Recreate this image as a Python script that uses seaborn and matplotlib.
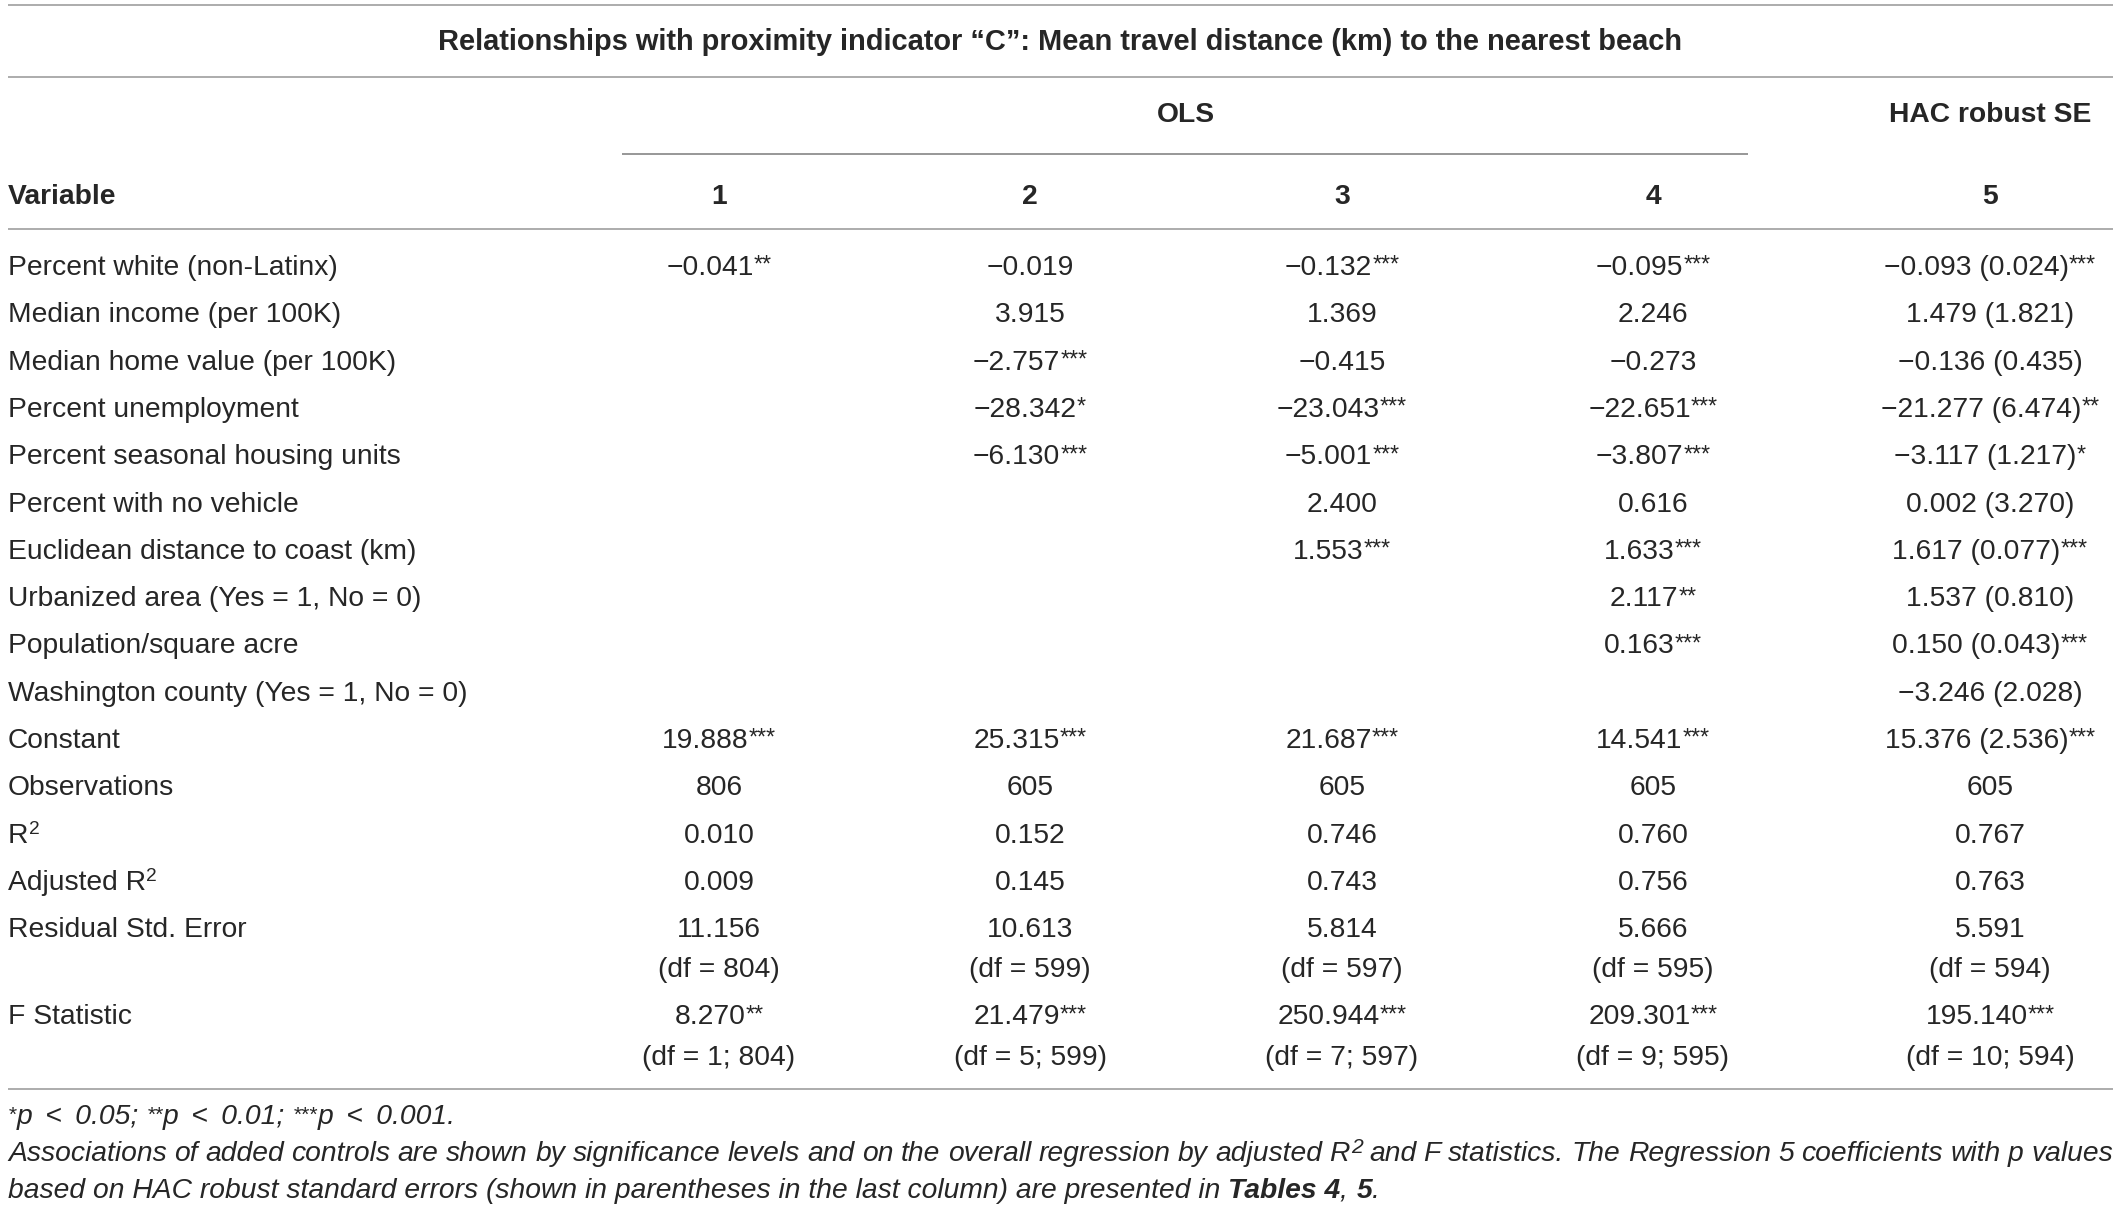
import matplotlib
matplotlib.use("Agg")
import matplotlib.pyplot as plt
import seaborn as sns

sns.set_theme(style="white")
plt.rcParams['font.family'] = ['Liberation Sans', 'DejaVu Sans']

# ---------------- data ----------------
title = "Relationships with proximity indicator \u201cC\u201d: Mean travel distance (km) to the nearest beach"
group_labels = ["OLS", "HAC robust SE"]
col_labels = ["1", "2", "3", "4", "5"]
var_header = "Variable"

row_labels = [
    "Percent white (non-Latinx)",
    "Median income (per 100K)",
    "Median home value (per 100K)",
    "Percent unemployment",
    "Percent seasonal housing units",
    "Percent with no vehicle",
    "Euclidean distance to coast (km)",
    "Urbanized area (Yes = 1, No = 0)",
    "Population/square acre",
    "Washington county (Yes = 1, No = 0)",
    "Constant",
    "Observations",
    "R|2",
    "Adjusted R|2",
    "Residual Std. Error",
    "F Statistic",
]

# cell text, significance stars
model1 = [("\u22120.041", "**"), None, None, None, None, None, None, None, None, None,
          ("19.888", "***"), ("806", ""), ("0.010", ""), ("0.009", ""), ("11.156", ""), ("8.270", "**")]
model2 = [("\u22120.019", ""), ("3.915", ""), ("\u22122.757", "***"), ("\u221228.342", "*"),
          ("\u22126.130", "***"), None, None, None, None, None,
          ("25.315", "***"), ("605", ""), ("0.152", ""), ("0.145", ""), ("10.613", ""), ("21.479", "***")]
model3 = [("\u22120.132", "***"), ("1.369", ""), ("\u22120.415", ""), ("\u221223.043", "***"),
          ("\u22125.001", "***"), ("2.400", ""), ("1.553", "***"), None, None, None,
          ("21.687", "***"), ("605", ""), ("0.746", ""), ("0.743", ""), ("5.814", ""), ("250.944", "***")]
model4 = [("\u22120.095", "***"), ("2.246", ""), ("\u22120.273", ""), ("\u221222.651", "***"),
          ("\u22123.807", "***"), ("0.616", ""), ("1.633", "***"), ("2.117", "**"), ("0.163", "***"), None,
          ("14.541", "***"), ("605", ""), ("0.760", ""), ("0.756", ""), ("5.666", ""), ("209.301", "***")]
model5 = [("\u22120.093 (0.024)", "***"), ("1.479 (1.821)", ""), ("\u22120.136 (0.435)", ""),
          ("\u221221.277 (6.474)", "**"), ("\u22123.117 (1.217)", "*"), ("0.002 (3.270)", ""),
          ("1.617 (0.077)", "***"), ("1.537 (0.810)", ""), ("0.150 (0.043)", "***"),
          ("\u22123.246 (2.028)", ""), ("15.376 (2.536)", "***"), ("605", ""), ("0.767", ""),
          ("0.763", ""), ("5.591", ""), ("195.140", "***")]
models = [model1, model2, model3, model4, model5]

resid_df = ["(df = 804)", "(df = 599)", "(df = 597)", "(df = 595)", "(df = 594)"]
f_df = ["(df = 1; 804)", "(df = 5; 599)", "(df = 7; 597)", "(df = 9; 595)", "(df = 10; 594)"]

foot1 = [("*", "isup"), ("p \u2009<\u2009 0.05; ", "i"), ("**", "isup"), ("p \u2009<\u2009 0.01; ", "i"),
         ("***", "isup"), ("p \u2009<\u2009 0.001.", "i")]
foot2_words = ("Associations of added controls are shown by significance levels and on the overall "
               "regression by adjusted R|2 and F statistics. The Regression 5 coefficients with p values")
foot3 = [("based on HAC robust standard errors (shown in parentheses in the last column) are presented in ", "i"),
         ("Tables 4", "bi"), (", ", "i"), ("5", "bi"), (".", "i")]

# ---------------- layout ----------------
W, H = 2120, 1213
DPI = 100
fig = plt.figure(figsize=(W / DPI, H / DPI), dpi=DPI)
ax = fig.add_axes([0, 0, 1, 1])
ax.set_xlim(0, W)
ax.set_ylim(H, 0)
ax.axis("off")
renderer = fig.canvas.get_renderer()

FS = 20.3
FFS = 20.3
TXT = "#262626"
LINE = "#a6a6a6"
col_x = [719, 1030, 1342, 1653, 1990]
left_x = 8

styles = {
    "n": dict(fontsize=FS),
    "b": dict(fontsize=FS, fontweight="bold"),
    "title": dict(fontsize=20.9, fontweight="bold"),
    "i": dict(fontsize=FFS, fontstyle="italic"),
    "bi": dict(fontsize=FFS, fontstyle="italic", fontweight="bold"),
    "sup": dict(fontsize=FS * 0.82),
    "isup": dict(fontsize=FFS * 0.75, fontstyle="italic"),
    "nsup2": dict(fontsize=FS * 0.68),
}
raise_px = {"sup": 3.0, "isup": 3.0, "nsup2": 9.0}


def width_of(s, kind):
    # trailing/leading spaces measured explicitly
    t = ax.text(0, 0, "x" + s + "x", **styles[kind])
    t2 = ax.text(0, 0, "xx", **styles[kind])
    w = t.get_window_extent(renderer).width - t2.get_window_extent(renderer).width
    t.remove(); t2.remove()
    return w


def draw_runs(x, y, runs, ha="left", color=TXT):
    widths = [width_of(s, k) for s, k in runs]
    total = sum(widths)
    if ha == "center":
        x0 = x - total / 2
    elif ha == "right":
        x0 = x - total
    else:
        x0 = x
    for (s, k), w in zip(runs, widths):
        dy = raise_px.get(k, 0)
        ax.text(x0, y - dy, s, ha="left", va="baseline", color=color, **styles[k])
        x0 += w
    return total


def label_runs(lbl, kind="n"):
    if "|" in lbl:
        a, b = lbl.split("|")
        return [(a, kind), (b, "nsup2")]
    return [(lbl, kind)]


def hline(y, x0=8, x1=2113, color=LINE, lw=1.3):
    ax.plot([x0, x1], [y, y], color=color, lw=lw, solid_capstyle="butt")


# rules
hline(5)
hline(77)
hline(153.5, 622, 1748, color="#7a7a7a", lw=1.1)
hline(229)
hline(1089)

# title and headers
ax.text(1060.5, 50, title, ha="center", va="baseline", color=TXT, **styles["title"])
ax.text((622 + 1748) / 2 + 0.5, 122, group_labels[0], ha="center", va="baseline", color=TXT, **styles["b"])
ax.text(col_x[4], 122, group_labels[1], ha="center", va="baseline", color=TXT, **styles["b"])
ax.text(left_x, 204, var_header, ha="left", va="baseline", color=TXT, **styles["b"])
for cx, c in zip(col_x, col_labels):
    ax.text(cx, 204, c, ha="center", va="baseline", color=TXT, **styles["b"])

# body
STEP = 47.3
row_y = [275 + STEP * i for i in range(15)]   # rows 0..14
row_y.append(row_y[14] + 87)                  # F statistic row
resid_df_y = row_y[14] + 40
f_df_y = row_y[15] + 41

for i, lbl in enumerate(row_labels):
    draw_runs(left_x, row_y[i], label_runs(lbl))
    for j, m in enumerate(models):
        cell = m[i]
        if cell is None:
            continue
        val, stars = cell
        runs = [(val, "n")]
        if stars:
            runs.append((stars, "sup"))
        draw_runs(col_x[j], row_y[i], runs, ha="center")

for j in range(5):
    ax.text(col_x[j], resid_df_y, resid_df[j], ha="center", va="baseline", color=TXT, **styles["n"])
    ax.text(col_x[j], f_df_y, f_df[j], ha="center", va="baseline", color=TXT, **styles["n"])

# footnotes
FY = [1124, 1161, 1198]
draw_runs(left_x, FY[0], foot1)

# justified line 2
words = foot2_words.split(" ")
word_runs = []
for wd in words:
    if "|" in wd:
        a, b = wd.split("|")
        word_runs.append([(a, "i"), (b, "isup")])
    else:
        word_runs.append([(wd, "i")])
wws = [sum(width_of(s, k) for s, k in r) for r in word_runs]
gap = max((2113 - left_x - sum(wws)) / (len(wws) - 1), 4.0)
xx = left_x
for r, w in zip(word_runs, wws):
    if len(r) == 2:
        wa = width_of(r[0][0], "i")
        ax.text(xx, FY[1], r[0][0], ha="left", va="baseline", color=TXT, **styles["i"])
        ax.text(xx + wa + 1, FY[1] - 8, r[1][0], ha="left", va="baseline", color=TXT, **styles["isup"])
    else:
        draw_runs(xx, FY[1], r)
    xx += w + gap

draw_runs(left_x, FY[2], foot3)

fig.savefig("out.png", dpi=DPI, facecolor="white")
